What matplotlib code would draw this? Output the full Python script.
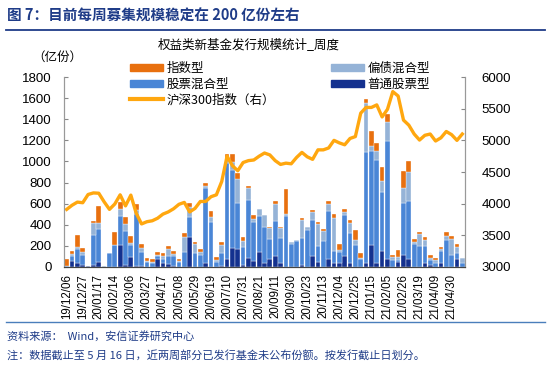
import matplotlib
matplotlib.use("Agg")
import matplotlib.pyplot as plt
import numpy as np

plt.rcParams['font.family'] = ['Noto Sans CJK SC', 'DejaVu Sans']

# weekly issuance (亿份), stacked bottom -> top
tick_labels = ["19/12/06", "19/12/27", "20/01/17", "20/02/14", "20/03/06", "20/03/27",
               "20/04/17", "20/05/08", "20/05/29", "20/06/19", "20/07/10", "20/07/31",
               "20/08/21", "20/09/11", "20/09/30", "20/10/23", "20/11/13", "20/12/04",
               "20/12/25", "21/01/15", "21/02/05", "21/02/26", "21/03/19", "21/04/09",
               "21/04/30"]

common_stock = [0, 60, 40, 15, 12, 15, 47, 0, 0, 0, 208, 20, 90, 10, 10, 0, 0, 80, 35, 28,
                10, 0, 0, 281, 0, 0, 35, 0, 0, 10, 79, 177, 167, 20, 82, 60, 145, 35, 73, 104,
                35, 0, 0, 0, 19, 0, 104, 50, 0, 79, 41, 41, 104, 41, 0, 0, 35, 208, 35, 148,
                76, 0, 50, 114, 76, 0, 0, 35, 19, 0, 35, 0, 0, 80, 0]
stock_mix = [5, 45, 130, 95, 0, 285, 313, 0, 130, 205, 278, 320, 120, 490, 130, 45, 40, 20, 40, 80,
             95, 45, 145, 196, 136, 110, 714, 430, 44, 126, 903, 742, 436, 172, 553, 370, 341, 347, 189, 332,
             243, 483, 215, 243, 259, 350, 341, 145, 246, 452, 110, 101, 388, 284, 208, 79, 1055, 891, 979, 559,
             1121, 66, 16, 489, 549, 218, 202, 167, 47, 35, 120, 256, 117, 50, 35]
bond_mix = [0, 15, 22, 28, 0, 115, 54, 10, 0, 0, 60, 63, 19, 44, 41, 16, 12, 16, 28, 63,
            22, 12, 135, 88, 80, 35, 16, 47, 22, 73, 32, 79, 227, 57, 110, 25, 66, 107, 104, 161,
            88, 19, 19, 10, 167, 32, 76, 212, 92, 66, 313, 19, 28, 95, 47, 10, 461, 47, 85, 107,
            174, 32, 32, 148, 278, 16, 110, 54, 16, 32, 16, 41, 148, 60, 54]
index_fund = [75, 32, 107, 42, 0, 20, 167, 0, 0, 125, 73, 69, 60, 57, 41, 28, 24, 27, 27, 25,
              25, 20, 38, 40, 25, 22, 28, 54, 25, 25, 54, 70, 63, 32, 25, 35, 0, 0, 16, 28,
              16, 234, 0, 0, 19, 0, 19, 22, 19, 28, 35, 57, 25, 28, 95, 41, 38, 145, 79, 136,
              79, 16, 63, 158, 104, 32, 16, 25, 32, 22, 16, 32, 32, 25, 0]
hs300 = [3910, 3975, 4025, 4015, 4145, 4170, 4165, 4030, 3910, 3995, 4140, 3965, 4135, 3850, 3680,
         3715, 3730, 3770, 3835, 3870, 3920, 3990, 4020, 3870, 3925, 4035, 4035, 4110, 4140, 4350,
         4750, 4600, 4520, 4650, 4680, 4690, 4750, 4800, 4770, 4680, 4620, 4640, 4630, 4730, 4810,
         4740, 4700, 4850, 4850, 4880, 5000, 4960, 4930, 5030, 5060, 5430, 5520, 5520, 5560, 5370,
         5490, 5770, 5700, 5320, 5240, 5100, 5005, 5080, 5100, 4990, 5040, 5140, 5090, 5000, 5100]

c_index = '#E8700F'
c_bond = '#95B3D7'
c_mix = '#4A86D6'
c_common = '#14318F'
c_line = '#FFA70F'
c_blue_text = '#1F3C88'
num_font = ['Liberation Sans', 'DejaVu Sans']

fig = plt.figure(figsize=(5.5, 3.66), dpi=100)
ax = fig.add_axes([0.1164, 0.2705, 0.729, 0.519])

x = np.arange(len(stock_mix))
b0 = np.array(common_stock)
b1 = b0 + np.array(stock_mix)
b2 = b1 + np.array(bond_mix)
w = 0.88
bar_kw = dict(width=w, edgecolor='white', linewidth=0.25, zorder=2)
ax.bar(x, common_stock, color=c_common, label='普通股票型', **bar_kw)
ax.bar(x, stock_mix, bottom=b0, color=c_mix, label='股票混合型', **bar_kw)
ax.bar(x, bond_mix, bottom=b1, color=c_bond, label='偏债混合型', **bar_kw)
ax.bar(x, index_fund, bottom=b2, color=c_index, label='指数型', **bar_kw)

ax.set_xlim(-0.5, len(x) - 0.5)
ax.set_ylim(0, 1800)
ax.set_yticks(np.arange(0, 1801, 200))
ax.set_xticks(x[::3])
ax.set_xticklabels(tick_labels, rotation=90, fontsize=8.3, family=num_font)
ax.tick_params(axis='y', direction='in', length=3, labelsize=9.5, color='#888888', pad=9)
ax.tick_params(axis='x', direction='in', length=2, pad=5, color='#555555')
for lab in ax.get_yticklabels():
    lab.set_family(num_font)

ax2 = ax.twinx()
ax2.plot(x, hs300, color=c_line, linewidth=2.4, solid_joinstyle='round', label='沪深300指数（右）')
ax2.set_ylim(3000, 6000)
ax2.set_yticks(np.arange(3000, 6001, 500))
ax2.tick_params(axis='y', direction='in', length=3, labelsize=9.5, color='#888888', pad=12)
for lab in ax2.get_yticklabels():
    lab.set_family(num_font)

for a in (ax, ax2):
    a.spines['top'].set_visible(False)
    a.spines['left'].set_color('#999999')
    a.spines['right'].set_color('#999999')
    a.spines['bottom'].set_color('#444444')

# legend
handles = [plt.Rectangle((0, 0), 1, 1, color=c_index),
           plt.Rectangle((0, 0), 1, 1, color=c_mix),
           plt.Line2D([0], [0], color=c_line, linewidth=3),
           plt.Rectangle((0, 0), 1, 1, color=c_bond),
           plt.Rectangle((0, 0), 1, 1, color=c_common)]
labels = ['指数型', '股票混合型', '沪深300指数（右）', '偏债混合型', '普通股票型']
fig.legend(handles, labels, ncol=2, loc='upper left', bbox_to_anchor=(0.225, 0.848),
           frameon=False, fontsize=9, handlelength=2.6, handleheight=0.45,
           handletextpad=0.3, columnspacing=4.5, labelspacing=0.22, borderpad=0)

fig.text(0.453, 0.877, '权益类新基金发行规模统计_周度', ha='center', va='center', fontsize=9)
fig.text(0.105, 0.843, '（亿份）', ha='center', va='center', fontsize=9)

# caption and footer
fig.text(0.012, 0.957, '图 7：目前每周募集规模稳定在 200 亿份左右', ha='left', va='center',
         fontsize=10.5, fontweight='bold', color=c_blue_text)
fig.add_artist(plt.Line2D([0.01, 0.99], [0.918, 0.918], color=c_blue_text, linewidth=1.3))
fig.add_artist(plt.Line2D([0.01, 0.99], [0.12, 0.12], color='#4A7EBB', linewidth=1.0))
fig.text(0.012, 0.08, '资料来源：  Wind，安信证券研究中心', ha='left', va='center',
         fontsize=8, style='italic', color=c_blue_text)
fig.text(0.012, 0.03, '注：数据截止至 5 月 16 日，近两周部分已发行基金未公布份额。按发行截止日划分。',
         ha='left', va='center', fontsize=8, style='italic', color=c_blue_text)

fig.savefig('out.png', dpi=100)
